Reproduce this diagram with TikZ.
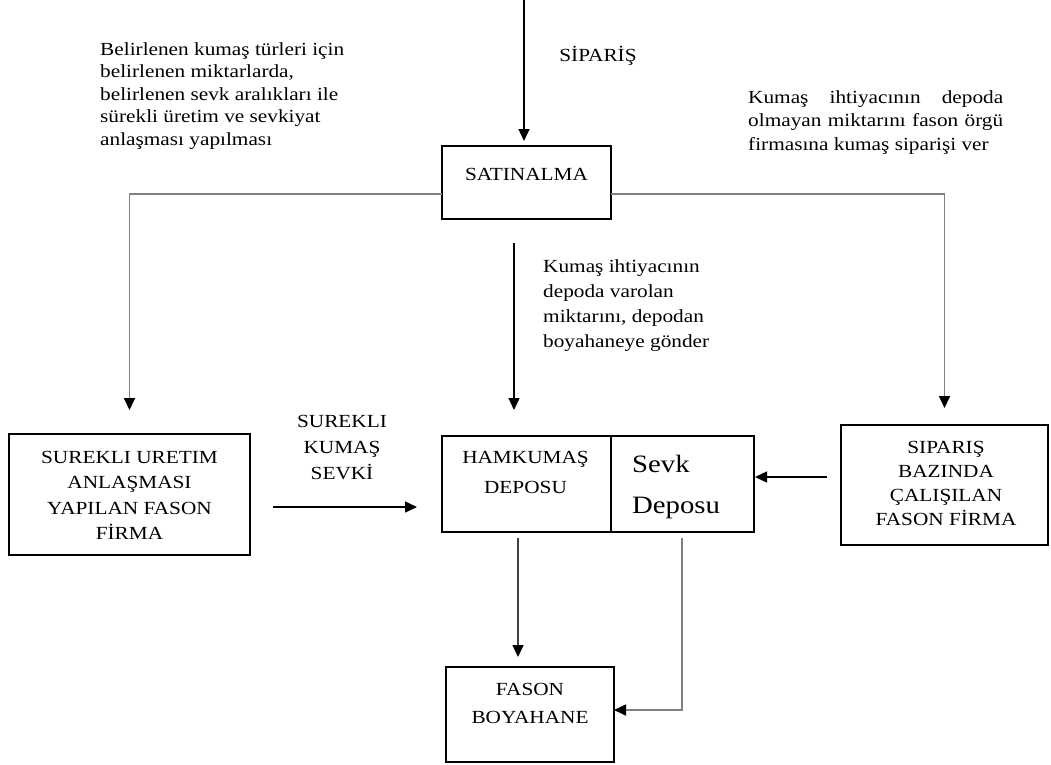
\documentclass[tikz,border=0pt]{standalone}
\usepackage{fontspec}
\setmainfont{Liberation Serif}[FakeStretch=1.15]
\usetikzlibrary{arrows.meta}
\newcommand{\txtblk}[5]{\parbox[t]{#1}{#2\fontsize{#3}{#4}\selectfont #5}}
\tikzset{
  box/.style={draw, line width=1.6pt, inner sep=0pt, outer sep=0pt},
  lbl/.style={inner sep=0pt, outer sep=0pt, font=\fontsize{18.5}{22}\selectfont},
  tip/.style={-{Triangle[length=12pt,width=11pt,color=black]}},
  blk/.style={tip, draw=black, line width=1.4pt},
  dgr/.style={tip, draw=black!75, line width=1.5pt},
  gry/.style={tip, draw=black!50, line width=1.7pt},
}
\begin{document}
\begin{tikzpicture}[x=1pt,y=-1pt]
\fill[white] (0,0) rectangle (1051,764);
\useasboundingbox (0,0) rectangle (1051,764);

% boxes
\node[box, minimum width=169pt, minimum height=73pt] (sat) at (526.5,182.5) {};
\node[box, minimum width=241pt, minimum height=121pt] (sur) at (129.5,494.5) {};
\node[box, minimum width=169pt, minimum height=96pt] (hamL) at (526.5,484) {};
\node[box, minimum width=143pt, minimum height=96pt] (sevk) at (682.5,484) {};
\node[box, minimum width=207pt, minimum height=120pt] (sip) at (944.5,485) {};
\node[box, minimum width=168pt, minimum height=95pt] (fason) at (530,714.5) {};

% texts
\node[lbl, anchor=base] (satT) at (526.5,180) {SATINALMA};
\node[lbl, anchor=base] (sipLbl) at (598,61) {SİPARİŞ};
\node[inner sep=0pt, anchor=base west] (tlT) at (100,55)
  {\txtblk{270pt}{\raggedright}{18.5}{22.5}{Belirlenen kumaş türleri için\\ belirlenen miktarlarda,\\ belirlenen sevk aralıkları ile\\ sürekli üretim ve sevkiyat\\ anlaşması yapılması}};
\node[inner sep=0pt, anchor=base west] (trT) at (748,103)
  {\txtblk{290pt}{\raggedright}{18.5}{23.5}{\makebox[255pt][s]{Kumaş ihtiyacının depoda}\\ \makebox[255pt][s]{olmayan miktarını fason örgü}\\ firmasına kumaş siparişi ver}};
\node[inner sep=0pt, anchor=base west] (midT) at (543,272)
  {\txtblk{250pt}{\raggedright}{18.5}{25}{Kumaş ihtiyacının\\ depoda varolan\\ miktarını, depodan\\ boyahaneye gönder}};
\node[inner sep=0pt, anchor=base] (surT) at (129.5,463)
  {\txtblk{236pt}{\centering}{18.5}{25.5}{SUREKLI URETIM\\ ANLAŞMASI\\ YAPILAN FASON\\ FİRMA}};
\node[inner sep=0pt, anchor=base] (hamT) at (525.5,463)
  {\txtblk{165pt}{\centering}{18.5}{30}{HAMKUMAŞ\\ DEPOSU}};
\node[inner sep=0pt, anchor=base west] (sevkT) at (632,472)
  {\txtblk{120pt}{\raggedright}{25}{41}{Sevk\\ Deposu}};
\node[inner sep=0pt, anchor=base] (sipT) at (946,453)
  {\txtblk{200pt}{\centering}{18.5}{24}{SIPARIŞ\\ BAZINDA\\ ÇALIŞILAN\\ FASON FİRMA}};
\node[inner sep=0pt, anchor=base] (fasonT) at (530,695)
  {\txtblk{160pt}{\centering}{18.5}{28}{FASON\\ BOYAHANE}};
\node[inner sep=0pt, anchor=base] (skT) at (342,427)
  {\txtblk{140pt}{\centering}{18.5}{26}{SUREKLI\\ KUMAŞ\\ SEVKİ}};

% helper coordinates
\coordinate (topin) at (524,0);
\coordinate (hy) at (0,194);
\coordinate (mx) at (514,0);
\coordinate (sy) at (0,507);
\coordinate (ry) at (0,477);
\coordinate (lx) at (518,0);
\coordinate (vx) at (682,0);
\coordinate (fy) at (0,710);

% connectors
\draw[blk, shorten >=5pt] (topin) -- (topin |- sat.north);
\draw[gry, shorten >=24pt] (sat.west |- hy) -| (sur.north);
\draw[gry, shorten >=17pt] (sat.east |- hy) -| (sip.north);
\draw[blk, shorten <=24pt, shorten >=26pt] (sat.south -| mx) -- (hamL.north -| mx);
\draw[blk, shorten <=23pt, shorten >=25pt] (sur.east |- sy) -- (hamL.west |- sy);
\draw[blk, shorten <=14pt, shorten >=1pt] (sip.west |- ry) -- (sevk.east |- ry);
\draw[dgr, shorten <=6pt, shorten >=10pt] (hamL.south -| lx) -- (fason.north -| lx);
\draw[gry, shorten <=6pt] (sevk.south -| vx) |- (fason.east |- fy);
\end{tikzpicture}
\end{document}
